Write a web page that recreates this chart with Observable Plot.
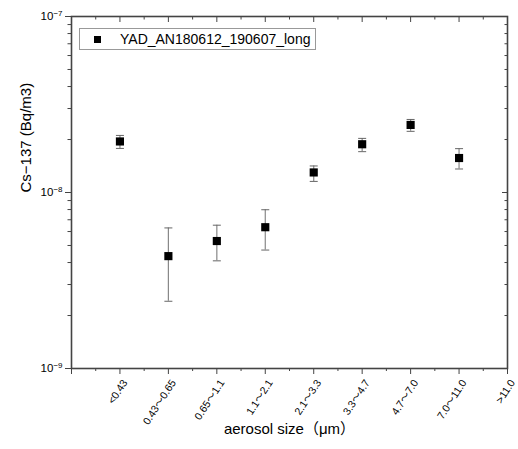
<!DOCTYPE html>
<html><head><meta charset="utf-8">
<script src="https://cdn.jsdelivr.net/npm/d3@7"></script>
<script src="https://cdn.jsdelivr.net/npm/@observablehq/plot@0.6"></script>
<style>
body{margin:0;background:#fff;}
#wrap{position:relative;width:518px;height:449px;font-family:"Liberation Sans","Noto Sans CJK JP",sans-serif;}
#legend{position:absolute;left:79px;top:28px;width:235px;height:20px;border:1px solid #999;background:#fff;font-size:14px;color:#000;}
</style>
</head><body>
<div id="wrap"><div id="chart"></div>
<div id="legend"><span style="position:absolute;left:14px;top:7px;width:7px;height:7px;background:#000;"></span><span id="legtext" style="position:absolute;left:40px;top:2px;line-height:16px;"></span></div>
</div>
<script>
const seriesName = "YAD_AN180612_190607_long";
const categories = ["<0.43","0.43～0.65","0.65～1.1","1.1～2.1","2.1～3.3","3.3～4.7","4.7～7.0","7.0～11.0",">11.0"];
const values  = [1.95e-8, 4.35e-9, 5.30e-9, 6.35e-9, 1.30e-8, 1.88e-8, 2.42e-8, 1.57e-8];
const errLow  = [1.78e-8, 2.41e-9, 4.09e-9, 4.71e-9, 1.156e-8, 1.706e-8, 2.226e-8, 1.36e-8];
const errHigh = [2.11e-8, 6.29e-9, 6.52e-9, 7.98e-9, 1.415e-8, 2.03e-8, 2.60e-8, 1.775e-8];
const xMajor = [0,1,2,3,4,5,6,7,8,9];
const xMinor = [0.5,1.5,2.5,3.5,4.5,5.5,6.5,7.5,8.5];
const yMajor = [1e-9,1e-8,1e-7];
const yExponents = [-9,-8,-7];
const yMinor = [2e-9,3e-9,4e-9,5e-9,6e-9,7e-9,8e-9,9e-9,2e-8,3e-8,4e-8,5e-8,6e-8,7e-8,8e-8,9e-8];
const xTitle = "aerosol size（μm）";
const yTitle = "Cs−137 (Bq/m3)";

document.getElementById("legtext").textContent = seriesName;

const data = values.map((v,i)=>({x:i+1, v, lo:errLow[i], hi:errHigh[i]}));
const cap = {draw(ctx){ctx.moveTo(-4,0);ctx.lineTo(4,0);}};
const axisColor = "#444";
const font = '"Liberation Sans","Noto Sans CJK JP",sans-serif';

const plot = Plot.plot({
  width:518, height:449,
  marginLeft:71, marginRight:11, marginTop:16, marginBottom:81,
  style:{fontFamily:font, fontSize:"11px", background:"#fff", color:"#000"},
  x:{type:"linear", domain:[0,9], label:null},
  y:{type:"log", domain:[1e-9,1e-7], label:null},
  marks:[
    Plot.axisX({anchor:"bottom", ticks:xMajor, tickSize:6, tickFormat:()=>"", label:null, stroke:axisColor}),
    Plot.axisX({anchor:"bottom", ticks:xMinor, tickSize:3, tickFormat:()=>"", label:null, stroke:axisColor}),
    Plot.axisX({anchor:"top", ticks:xMajor, tickSize:-5, tickFormat:()=>"", label:null, stroke:axisColor}),
    Plot.axisX({anchor:"top", ticks:xMinor, tickSize:-2.5, tickFormat:()=>"", label:null, stroke:axisColor}),
    Plot.axisY({anchor:"left", ticks:yMajor, tickSize:6, tickPadding:3, tickFormat:(d)=>"10^"+yExponents[yMajor.indexOf(d)], label:null, stroke:axisColor, fontSize:11.5}),
    Plot.axisY({anchor:"left", ticks:yMinor, tickSize:3.5, tickFormat:()=>"", label:null, stroke:axisColor}),
    Plot.axisY({anchor:"right", ticks:yMajor, tickSize:-6, tickFormat:()=>"", label:null, stroke:axisColor}),
    Plot.axisY({anchor:"right", ticks:yMinor, tickSize:-3.5, tickFormat:()=>"", label:null, stroke:axisColor}),
    Plot.frame({stroke:axisColor, strokeWidth:1.6}),
    Plot.text(categories, {x:(d,i)=>i+1, text:d=>d, frameAnchor:"bottom", rotate:-57, textAnchor:"end", dx:8, dy:14, fontSize:10.5, fontFamily:font}),
    Plot.text([xTitle], {text:d=>d, frameAnchor:"bottom", dy:65, fontSize:15, fontFamily:font}),
    Plot.text([yTitle], {text:d=>d, frameAnchor:"left", rotate:-90, dx:-45, fontSize:15, fontFamily:font}),
    Plot.ruleX(data, {x:"x", y1:"lo", y2:"hi", stroke:"#888", strokeWidth:1.2}),
    Plot.dot(data, {x:"x", y:"lo", symbol:cap, stroke:"#666", fill:"none", strokeWidth:1}),
    Plot.dot(data, {x:"x", y:"hi", symbol:cap, stroke:"#666", fill:"none", strokeWidth:1}),
    Plot.dot(data, {x:"x", y:"v", symbol:"square", fill:"#000", stroke:"none", r:4.6})
  ]
});
document.getElementById("chart").appendChild(plot);

// superscript exponents on y tick labels
d3.select(plot).selectAll("text").each(function(){
  const t = this.textContent;
  if (/^10\^/.test(t)) {
    const exp = t.slice(3).replace("-", "−");
    const sel = d3.select(this);
    sel.text("");
    sel.append("tspan").text("10");
    sel.append("tspan").attr("dy", "-0.55em").attr("font-size", "8px").text(exp);
  }
});
</script>
</body></html>
